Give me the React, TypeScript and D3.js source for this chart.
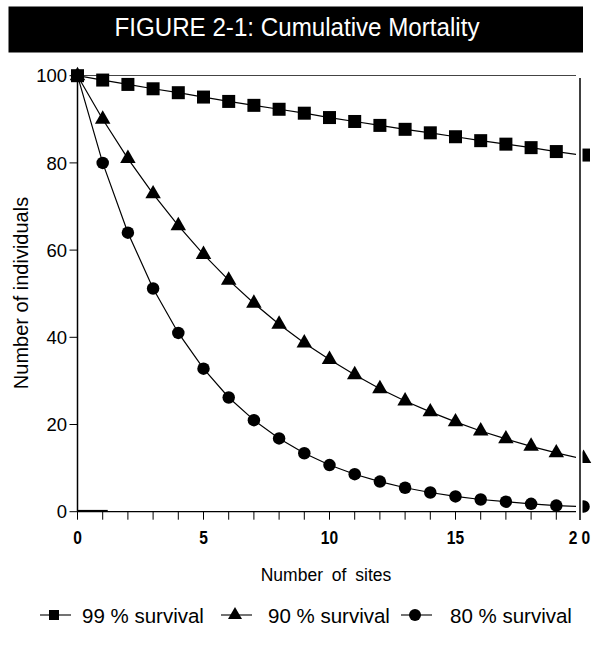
import React from 'react';
import * as d3 from 'd3';

const sites = [0, 1, 2, 3, 4, 5, 6, 7, 8, 9, 10, 11, 12, 13, 14, 15, 16, 17, 18, 19, 20];
const survival99 = [100, 99, 98, 97, 96.1, 95.1, 94.1, 93.2, 92.3, 91.4, 90.4, 89.5, 88.6, 87.7, 86.9, 86.0, 85.1, 84.3, 83.5, 82.6, 81.8];
const survival90 = [100, 90, 81, 72.9, 65.6, 59.0, 53.1, 47.8, 43.0, 38.7, 34.9, 31.4, 28.2, 25.4, 22.9, 20.6, 18.5, 16.7, 15.0, 13.5, 12.2];
const survival80 = [100, 80, 64, 51.2, 41.0, 32.8, 26.2, 21.0, 16.8, 13.4, 10.7, 8.6, 6.9, 5.5, 4.4, 3.5, 2.8, 2.3, 1.8, 1.4, 1.2];
const yTicks = [0, 20, 40, 60, 80, 100];
const xTickLabels = [0, 5, 10, 15, 20];
const legendLabels = ['99 % survival', '90 % survival', '80 % survival'];
const titleText = 'FIGURE 2-1: Cumulative Mortality';

type Shape = 'square' | 'triangle' | 'circle';
const series: { values: number[]; shape: Shape }[] = [
  { values: survival99, shape: 'square' },
  { values: survival90, shape: 'triangle' },
  { values: survival80, shape: 'circle' },
];

const x = d3.scaleLinear().domain([0, 20]).range([77.5, 581.5]);
const y = d3.scaleLinear().domain([0, 100]).range([511.7, 75.7]);

const font = 'Liberation Sans, Arial, Helvetica, sans-serif';

// draws one marker centred at cx, cy
const Marker = ({ shape, cx, cy, s }: { shape: Shape; cx: number; cy: number; s: number }) => {
  if (shape === 'square') return <rect x={cx - s / 2} y={cy - s / 2} width={s} height={s} fill="#000" />;
  if (shape === 'circle') return <circle cx={cx} cy={cy} r={s / 2} fill="#000" />;
  const tri = d3.symbol().type(d3.symbolTriangle).size((Math.sqrt(3) / 4) * s * s)();
  return <path d={tri || ''} transform={`translate(${cx},${cy})`} fill="#000" />;
};

export default function App() {
  const line = d3.line<number>().x((_, i) => x(sites[i])).y((d) => y(d));
  const lastX = x(20);
  const markerSize: Record<Shape, number> = { square: 13, triangle: 15.5, circle: 12.5 };
  const legendMarkerSize: Record<Shape, number> = { square: 10, triangle: 14, circle: 12 };
  const legendX = [40, 221, 401];
  const legendTextX = [82, 268, 450];

  return (
    <svg width={594} height={645} style={{ position: 'absolute', left: 0, top: 0, background: '#fff' }}>
      <defs>
        <clipPath id="plotClip">
          <rect x={0} y={0} width={lastX - 5.5} height={645} />
        </clipPath>
        <clipPath id="edgeClip">
          <rect x={lastX + 1} y={0} width={20} height={645} />
        </clipPath>
      </defs>

      {/* title bar */}
      <rect x={8.5} y={6.5} width={574.5} height={46} fill="#000" />
      <text x={297} y={36} textAnchor="middle" fill="#fff" fontFamily={font} fontSize={26}
        textLength={365} lengthAdjust="spacingAndGlyphs">{titleText}</text>

      {/* frame */}
      <line x1={x(0)} x2={lastX - 5.5} y1={75.5} y2={75.5} stroke="#444" strokeWidth={1.2} />
      <line x1={x(0)} x2={x(0)} y1={y(100)} y2={y(0)} stroke="#000" strokeWidth={1.5} />
      <line x1={x(0)} x2={lastX - 5.5} y1={y(0)} y2={y(0)} stroke="#000" strokeWidth={1.2} />
      <line x1={lastX - 1.5} x2={lastX - 1.5} y1={78} y2={520} stroke="#000" strokeWidth={1.5} />
      <line x1={x(0)} x2={x(1.2)} y1={y(0) - 0.8} y2={y(0) - 0.8} stroke="#000" strokeWidth={2} />

      {/* x ticks */}
      {sites.slice(0, 20).map((s) => (
        <line key={s} x1={x(s)} x2={x(s)} y1={y(0)} y2={y(0) + 8} stroke="#000" strokeWidth={1} />
      ))}
      {xTickLabels.map((t) => (
        <text key={t} transform={`translate(${x(t)},544) scale(0.82,1)`} textAnchor="middle" fontFamily={font}
          fontWeight="bold" fontSize={19} letterSpacing={t === 20 ? 5 : 0}>{t}</text>
      ))}

      {/* y ticks */}
      {yTicks.map((t) => (
        <g key={t}>
          <line x1={x(0) - 8} x2={x(0)} y1={y(t)} y2={y(t)} stroke="#000" strokeWidth={1} />
          <text x={67} y={y(t)} dy="0.36em" textAnchor="end" fontFamily={font} fontSize={18.5}>{t}</text>
        </g>
      ))}

      {/* axis titles */}
      <text x={326} y={581} textAnchor="middle" fontFamily={font} fontSize={17.5} wordSpacing={4}>Number of sites</text>
      <text transform={`translate(28,293) rotate(-90)`} textAnchor="middle" fontFamily={font} fontSize={20}>Number of individuals</text>

      {/* series */}
      {series.map((s, k) => (
        <g key={k}>
          <path d={line(s.values) || ''} fill="none" stroke="#000" strokeWidth={1.2} clipPath="url(#plotClip)" />
          {s.values.slice(0, 20).map((v, i) => (
            <Marker key={i} shape={s.shape} cx={x(sites[i])} cy={y(v)} s={markerSize[s.shape]} />
          ))}
          <g clipPath="url(#edgeClip)">
            <Marker shape={s.shape} cx={lastX + 2} cy={y(s.values[20])} s={markerSize[s.shape]} />
          </g>
        </g>
      ))}

      {/* legend */}
      {series.map((s, k) => (
        <g key={k}>
          <line x1={legendX[k]} x2={legendX[k] + 31} y1={615} y2={615} stroke="#000" strokeWidth={1.1} />
          <Marker shape={s.shape} cx={legendX[k] + 14} cy={615} s={legendMarkerSize[s.shape]} />
          <text x={legendTextX[k]} y={623} fontFamily={font} fontSize={20.5}>{legendLabels[k]}</text>
        </g>
      ))}
    </svg>
  );
}
